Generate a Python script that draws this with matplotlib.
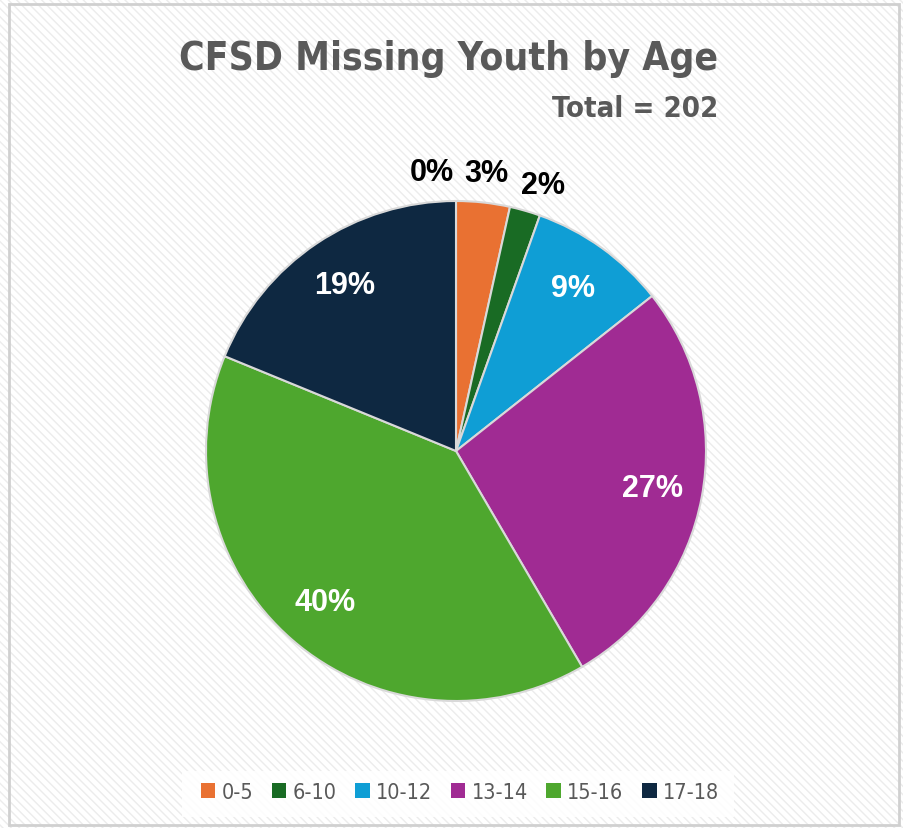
import numpy as np
import matplotlib.pyplot as plt
from matplotlib.patches import Rectangle

# data (counts out of 202), first slice is the empty category labelled 0%
ages = ['', '0-5', '6-10', '10-12', '13-14', '15-16', '17-18']
counts = [0, 7, 4, 18, 55, 80, 38]
pct_labels = ['0%', '3%', '2%', '9%', '27%', '40%', '19%']
colors = ['#E97132', '#E97132', '#196B24', '#0F9ED5', '#A02B93', '#4EA72E', '#0E2841']
label_colors = ['black', 'black', 'black', 'white', 'white', 'white', 'white']

narrow = 'DejaVu Sans'
grey = '#595959'

W, H = 904, 829
fig = plt.figure(figsize=(W / 100, H / 100), dpi=100)

# hatched background + border
bg = fig.add_axes([0, 0, 1, 1])
bg.set_xlim(0, W); bg.set_ylim(H, 0); bg.axis('off')
bg.add_patch(Rectangle((0, 0), W, H, facecolor='white', edgecolor='#ececec',
                       hatch='\\\\\\\\', linewidth=0))
bg.add_patch(Rectangle((9, 5), W - 14, H - 8, facecolor='none', edgecolor='#d0d0d0', linewidth=2))
bg.add_patch(Rectangle((182, 772), 552, 46, facecolor='white', edgecolor='none', alpha=0.85))

bg.text(718, 70, 'CFSD Missing Youth by Age', ha='right', va='baseline',
        fontsize=28, fontweight='bold', color=grey, family=narrow, fontstretch='condensed')
bg.text(718, 117, 'Total = 202', ha='right', va='baseline',
        fontsize=21, fontweight='bold', color=grey, family=narrow, fontstretch='condensed')

# pie
cx, cy, R = 456, 452, 250
ax = fig.add_axes([(cx - R) / W, (H - cy - R) / H, 2 * R / W, 2 * R / H])
wedges, _ = ax.pie(counts, colors=colors, startangle=90, counterclock=False, radius=1,
                   wedgeprops=dict(edgecolor='#d9d9d9', linewidth=1.5))
ax.set_xlim(-1, 1); ax.set_ylim(-1, 1); ax.set_aspect('equal'); ax.axis('off')

for i, w in enumerate(wedges):
    mid = np.deg2rad((w.theta1 + w.theta2) / 2)
    if counts[i] / sum(counts) < 0.05:
        r = 1.12
        if counts[i] == 0:
            mid += np.deg2rad(5)
        elif counts[i] == 4:
            mid -= np.deg2rad(2)
    else:
        r = 0.8
    ax.text(r * np.cos(mid), r * np.sin(mid), pct_labels[i], ha='center', va='center',
            fontsize=22, fontweight='bold', color=label_colors[i], family='Liberation Sans')

leg = ax.legend(wedges[1:], ages[1:], loc='center',
                bbox_to_anchor=((460 - (cx - R)) / (2 * R), (cy + R - 793) / (2 * R)),
                ncol=6, frameon=False, labelcolor=grey, handlelength=0.68,
                handleheight=0.68, handletextpad=0.3, columnspacing=0.85,
                prop=dict(family=narrow, stretch='condensed', size=15.5))
for h in leg.legend_handles:
    h.set_edgecolor('none')

fig.savefig('out.png', dpi=100)
